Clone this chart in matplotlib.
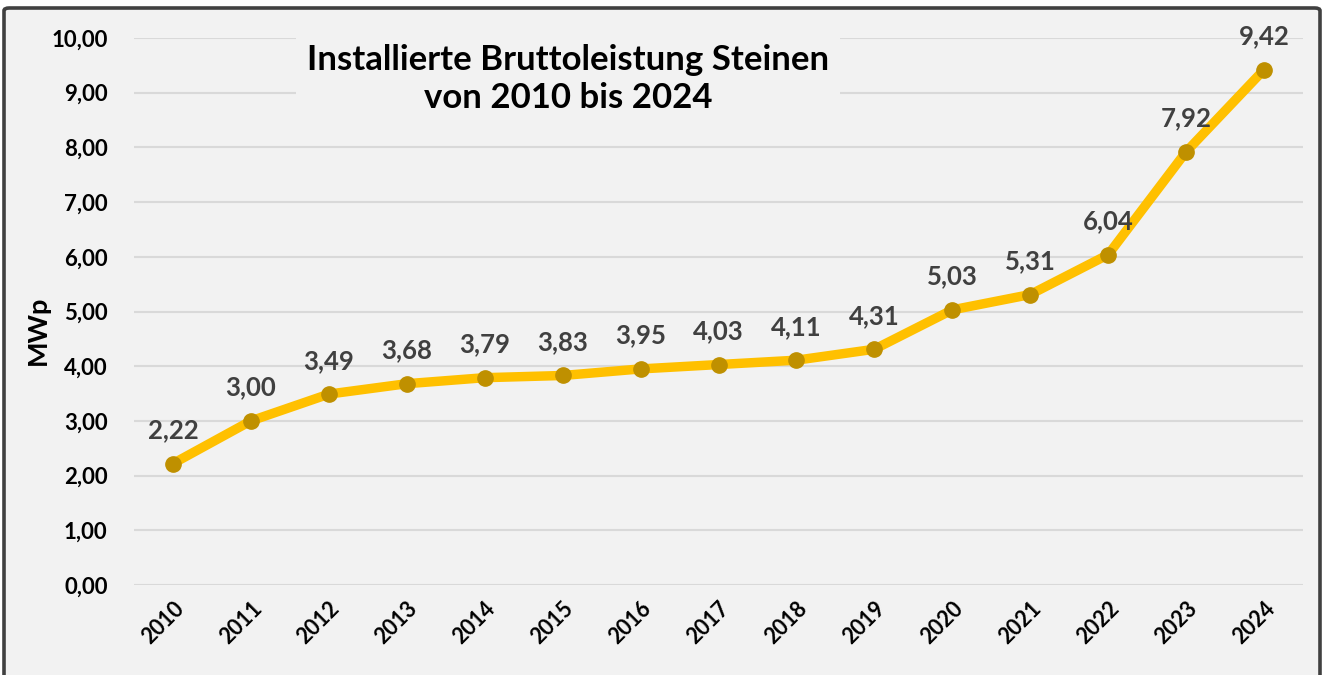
import matplotlib.pyplot as plt
from matplotlib.patches import FancyBboxPatch

# Daten
jahre = ['2010', '2011', '2012', '2013', '2014', '2015', '2016', '2017',
         '2018', '2019', '2020', '2021', '2022', '2023', '2024']
leistung = [2.22, 3.00, 3.49, 3.68, 3.79, 3.83, 3.95, 4.03,
            4.11, 4.31, 5.03, 5.31, 6.04, 7.92, 9.42]
y_ticks = [0, 1, 2, 3, 4, 5, 6, 7, 8, 9, 10]

plt.rcParams['font.family'] = ['Lato', 'DejaVu Sans']

fig = plt.figure(figsize=(13.25, 6.75), dpi=100, facecolor='white')

# Rahmen um das Diagramm
rahmen = FancyBboxPatch((4 / 1325, -0.05), 1316 / 1325, 1.05 - 8 / 675,
                        boxstyle='round,pad=0,rounding_size=0.004',
                        transform=fig.transFigure, facecolor='#f2f2f2',
                        edgecolor='#404040', linewidth=2.6, zorder=-5)
fig.patches.append(rahmen)

ax = fig.add_axes([134 / 1325, 90 / 675, 1169 / 1325, 547 / 675])
ax.set_zorder(2)
ax.set_facecolor('none')

x = range(len(jahre))
ax.plot(x, leistung, color='#FFC000', linewidth=6.8, zorder=3,
        solid_capstyle='round', solid_joinstyle='round')
ax.plot(x, leistung, linestyle='none', marker='o', markersize=11,
        color='#BF9000', zorder=4)

for i, v in enumerate(leistung):
    ax.annotate(f'{v:.2f}'.replace('.', ','), (i, v), xytext=(0, 24),
                textcoords='offset points', ha='center', va='center',
                fontsize=18.5, fontweight='bold', color='#404040', zorder=5)

ax.set_xlim(-0.5, len(jahre) - 0.5)
ax.set_ylim(0, 10)
ax.set_xticks(list(x))
ax.set_xticklabels(jahre, rotation=45, ha='right', rotation_mode='anchor',
                   fontsize=15.5, fontweight='bold')
ax.set_yticks(y_ticks)
ax.set_yticklabels([f'{t:.2f}'.replace('.', ',') for t in y_ticks],
                   fontsize=16, fontweight='bold')
ax.tick_params(axis='both', length=0, colors='black')
ax.tick_params(axis='y', pad=19)
ax.tick_params(axis='x', pad=9)

ax.grid(axis='y', color='#d9d9d9', linewidth=1.5, zorder=1)
ax.set_axisbelow(True)
for s in ax.spines.values():
    s.set_visible(False)

ax.set_ylabel('MWp', fontsize=19.5, fontweight='bold')
ax.yaxis.set_label_coords(-84 / 1169, 0.465)

fig.text(568 / 1325, 1 - 79 / 675,
         'Installierte Bruttoleistung Steinen\nvon 2010 bis 2024',
         ha='center', va='center', fontsize=25, fontweight='bold',
         linespacing=1.2, color='black', zorder=6,
         bbox=dict(facecolor='#f2f2f2', edgecolor='none', pad=8))

fig.savefig('out.png', dpi=100, facecolor='white')
